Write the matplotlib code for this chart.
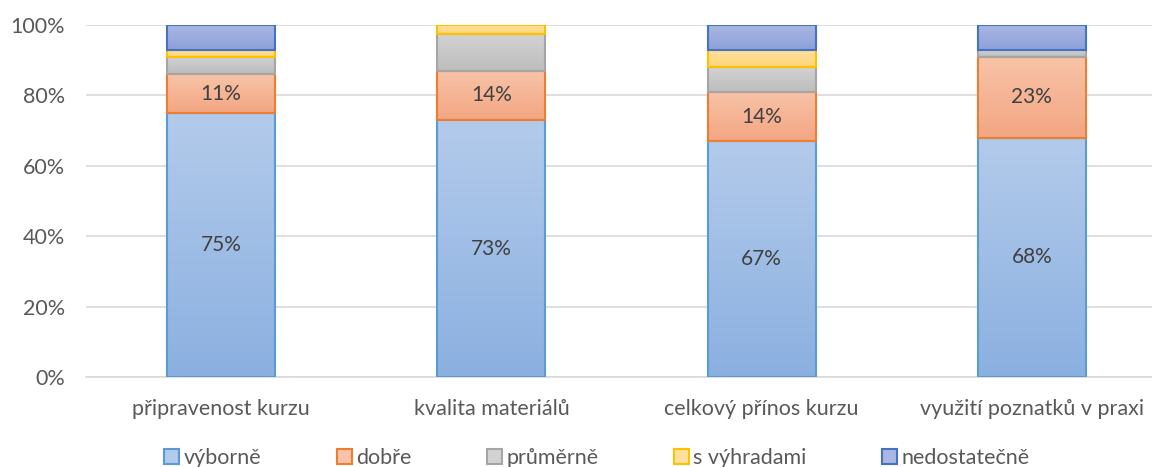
import matplotlib
matplotlib.use("Agg")
import matplotlib.pyplot as plt
import numpy as np
from matplotlib.colors import LinearSegmentedColormap
from matplotlib.patches import Patch

categories = ["připravenost kurzu", "kvalita materiálů", "celkový přínos kurzu", "využití poznatků v praxi"]
series_names = ["výborně", "dobře", "průměrně", "s výhradami", "nedostatečně"]
vyborne = [75, 73, 67, 68]
dobre = [11, 14, 14, 23]
prumerne = [5, 10.5, 7, 2]
s_vyhradami = [2, 2.5, 5, 0]
nedostatecne = [7, 0, 7, 7]
y_ticks = [0, 20, 40, 60, 80, 100]
y_tick_labels = ["0%", "20%", "40%", "60%", "80%", "100%"]

series = [vyborne, dobre, prumerne, s_vyhradami, nedostatecne]
tops = ["#b3cbeb", "#f8c3a8", "#d2d2d2", "#ffe09e", "#aab7e2"]
bottoms = ["#8bb0e0", "#f3a682", "#bdbdbd", "#ffd67a", "#8c9fd9"]
edges = ["#5b9bd5", "#ed7d31", "#a5a5a5", "#ffc000", "#4472c4"]
labelled = [True, True, False, False, False]

plt.rcParams['font.family'] = ['Lato', 'DejaVu Sans']
fig = plt.figure(figsize=(11.52, 4.67), dpi=100)
ax = fig.add_axes([86/1152, 90/467, (1167-86)/1152, 352/467])

x = np.arange(len(categories))
width = 0.40
bottom = np.zeros(len(categories))
for vals, top_c, bot_c, ec, lab in zip(series, tops, bottoms, edges, labelled):
    vals = np.array(vals, dtype=float)
    bars = ax.bar(x, vals, width, bottom=bottom, facecolor=bot_c, edgecolor=ec, linewidth=1.5, zorder=3)
    cmap = LinearSegmentedColormap.from_list("g", [bot_c, top_c])
    for b, v, b0 in zip(bars, vals, bottom):
        if v <= 0:
            b.set_visible(False)
            continue
        grad = np.linspace(0, 1, 100).reshape(-1, 1)
        im = ax.imshow(grad, cmap=cmap, origin="lower", aspect="auto",
                       extent=[b.get_x(), b.get_x() + b.get_width(), b0, b0 + v], zorder=2.5)
        im.set_clip_path(b)
        b.set_facecolor("none")
        if lab:
            ax.text(b.get_x() + b.get_width()/2, b0 + v/2, f"{int(v)}%", ha="center", va="center",
                    fontsize=15, color="#404040", zorder=4)
    bottom += vals

ax.set_xlim(-0.5, len(categories) - 0.5)
ax.set_ylim(0, 100)
ax.set_yticks(y_ticks)
ax.set_yticklabels(y_tick_labels)
ax.set_xticks(x)
ax.set_xticklabels(categories)
ax.tick_params(axis="both", length=0, labelsize=15.5, colors="#595959")
ax.tick_params(axis="x", pad=16)
ax.tick_params(axis="y", pad=15)
ax.grid(axis="y", color="#d9d9d9", linewidth=1.2, zorder=0)
for s in ["top", "right", "left"]:
    ax.spines[s].set_visible(False)
ax.spines["bottom"].set_color("#d9d9d9")
ax.spines["bottom"].set_linewidth(1.2)

handles = [Patch(facecolor=c, edgecolor=e, linewidth=1.5) for c, e in zip(tops, edges)]
fig.legend(handles, series_names, loc="center", bbox_to_anchor=(0.518, 0.02), ncol=5,
           frameon=False, fontsize=15.5, handlelength=0.7, handleheight=0.7, handletextpad=0.2,
           columnspacing=3.5, labelcolor="#595959")

fig.savefig("out.png", dpi=100)
